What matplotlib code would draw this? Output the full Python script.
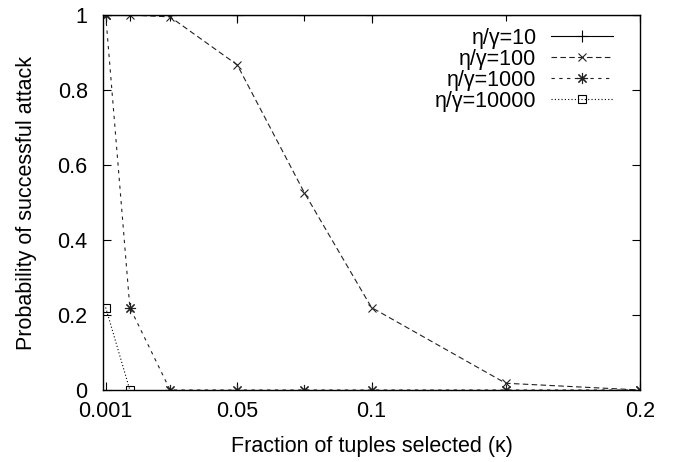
import matplotlib
matplotlib.use("Agg")
import matplotlib.pyplot as plt

plt.rcParams['font.family'] = ['Liberation Sans', 'DejaVu Sans']

kappa = [0.001, 0.01, 0.025, 0.05, 0.075, 0.1, 0.15, 0.2]
p10 = [1, 1, 1, 1, 1, 1, 1, 1]
p100 = [1, 1, 0.995, 0.867, 0.526, 0.22, 0.018, 0.0]
p1000 = [1, 0.22, 0, 0, 0, 0, 0, 0]
kappa10000 = [0.001, 0.01]
p10000 = [0.22, 0.0]
labels = ["η/γ=10", "η/γ=100", "η/γ=1000", "η/γ=10000"]
xticks = [0.001, 0.05, 0.1, 0.2]
xtick_labels = ["0.001", "0.05", "0.1", "0.2"]
yticks = [0, 0.2, 0.4, 0.6, 0.8, 1]
ytick_labels = ["0", "0.2", "0.4", "0.6", "0.8", "1"]

FS = 15.5
fig = plt.figure(figsize=(6.75, 4.62), dpi=100)
ax = fig.add_axes([103/675, 72/462, (640-103)/675, (390-15)/462])

lw = 0.8
ax.plot(kappa, p10, color='black', lw=lw, marker='+', ms=8, mew=0.8, label=labels[0])
ax.plot(kappa, p100, color='#222222', lw=lw, dashes=(5, 3), marker='x', ms=6, mew=0.8, label=labels[1])
ax.plot(kappa, p1000, color='#222222', lw=lw, dashes=(3, 4), marker=(8, 2, 0), ms=8, mew=0.8, label=labels[2])
ax.plot(kappa10000, p10000, color='black', lw=lw, dashes=(1, 2), marker='s', ms=6, mew=0.8,
        mfc='none', label=labels[3])

ax.set_xlim(0, 0.2)
ax.set_ylim(0, 1)
ax.set_xticks(xticks)
ax.set_xticklabels(xtick_labels)
ax.set_yticks(yticks)
ax.set_yticklabels(ytick_labels)
ax.tick_params(direction='in', length=6, width=0.8, top=True, right=True, labelsize=FS)
ax.tick_params(axis='x', pad=8)
ax.tick_params(axis='y', pad=11)
for s in ax.spines.values():
    s.set_linewidth(1.0)

ax.set_xlabel("Fraction of tuples selected (κ)", fontsize=FS, labelpad=10)
ax.set_ylabel("Probability of successful attack", fontsize=FS, labelpad=15)

leg = ax.legend(loc='upper right', frameon=False, markerfirst=False, fontsize=FS,
                handlelength=2.9, handletextpad=0.65, labelspacing=0.0,
                borderpad=0, borderaxespad=0, bbox_to_anchor=(0.9497, 0.966))
for t in leg.get_texts():
    t.set_ha('right')

fig.savefig("out.png", dpi=100)
